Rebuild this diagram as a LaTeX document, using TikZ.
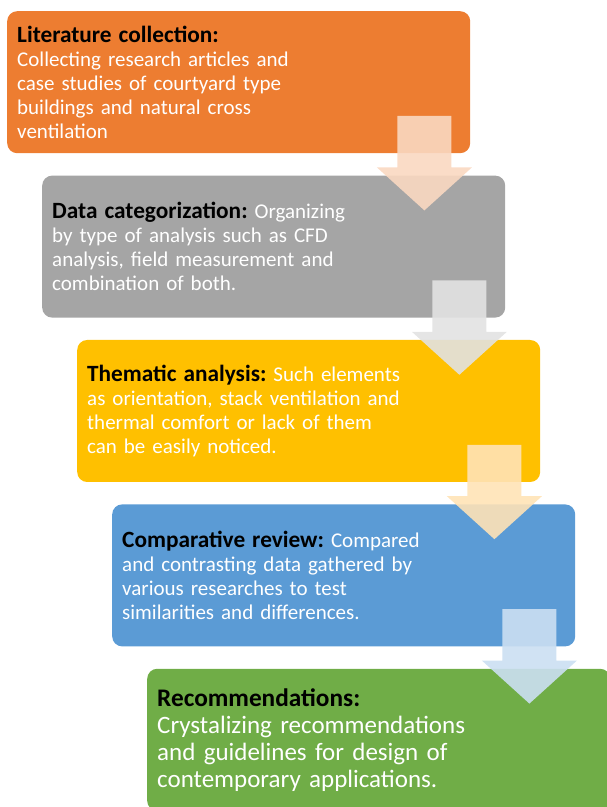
\documentclass[tikz,border=0pt]{standalone}
\usepackage{fontspec}
\setmainfont{Carlito}
\usepackage{tikz}
\usetikzlibrary{arrows.meta,positioning,calc}
\definecolor{stepOrange}{HTML}{ED7D31}
\definecolor{stepGray}{HTML}{A5A5A5}
\definecolor{stepYellow}{HTML}{FFC000}
\definecolor{stepBlue}{HTML}{5B9BD5}
\definecolor{stepGreen}{HTML}{70AD47}
\colorlet{tintOrange}{stepOrange!30!white}
\colorlet{tintGray}{stepGray!32!white}
\definecolor{tintYellow}{HTML}{FFE3B6}
\colorlet{tintBlue}{stepBlue!32!white}
\tikzset{
    stepbox/.style={rectangle, rounded corners=10pt, minimum width=463pt, minimum height=142pt,
                    inner xsep=10pt, inner ysep=0pt, text width=443pt, align=left, text=white,
                    font=\fontsize{21}{24}\selectfont\def\titlesize{\fontsize{23.3}{24}\selectfont}},
    bigtext/.style={font=\fontsize{25}{27}\selectfont\def\titlesize{\fontsize{25.3}{27}\selectfont}},
    flowfill/.style={fill=#1, opacity=0.9}
}
% block arrow from box #1 down into box #2
\newcommand{\flowarrow}[3]{%
    \fill[flowfill=#3]
        ($(#1.north east)+(-73,-105)$) -- ($(#1.north east)+(-19,-105)$)
        -- ($(#1.north east |- #2.north)+(-19,8)$) -- ($(#1.north east |- #2.north)+(1.5,8)$)
        -- ($(#1.north east |- #2.north)+(-46,-35)$)
        -- ($(#1.north east |- #2.north)+(-93.5,8)$) -- ($(#1.north east |- #2.north)+(-73,8)$) -- cycle;}
\newcommand{\steptitle}[1]{{\color{black}\bfseries\titlesize #1}}
\frenchspacing

\begin{document}
\begin{tikzpicture}[x=1pt, y=1pt]
    \useasboundingbox (0,0) rectangle (606,807);
    \node[stepbox, fill=stepOrange, anchor=north west] (L) at (7,796)
        {\steptitle{Literature collection:}\\
         Collecting research articles and\\
         case studies of courtyard type\\
         buildings and natural cross\\
         ventilation};
    \node[stepbox, fill=stepGray, below right=22pt and 35pt of L.south west] (D)
        {\steptitle{Data categorization:} Organizing\\
         by type of analysis such as CFD\\
         analysis, field measurement and\\
         combination of both.};
    \node[stepbox, fill=stepYellow, below right=22pt and 35pt of D.south west] (T)
        {\steptitle{Thematic analysis:} Such elements\\
         as orientation, stack ventilation and\\
         thermal comfort or lack of them\\
         can be easily noticed.};
    \node[stepbox, fill=stepBlue, below right=22pt and 35pt of T.south west] (C)
        {\steptitle{Comparative review:} Compared\\
         and contrasting data gathered by\\
         various researches to test\\
         similarities and differences.};
    \node[stepbox, bigtext, fill=stepGreen, below right=22pt and 35pt of C.south west] (R)
        {\steptitle{Recommendations:}\\
         Crystalizing recommendations\\
         and guidelines for design of\\
         contemporary applications.};
    % arrows on top of the boxes
    \flowarrow{L}{D}{tintOrange}
    \flowarrow{D}{T}{tintGray}
    \flowarrow{T}{C}{tintYellow}
    \flowarrow{C}{R}{tintBlue}
\end{tikzpicture}
\end{document}
